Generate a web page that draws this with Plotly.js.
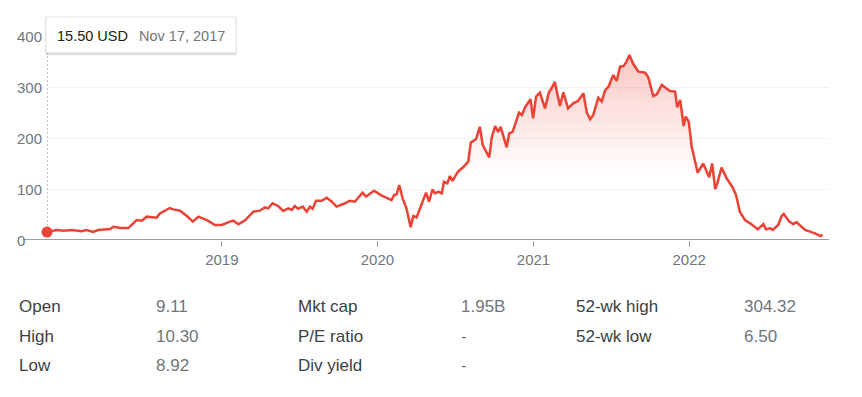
<!DOCTYPE html>
<html><head><meta charset="utf-8">
<script src="https://cdn.plot.ly/plotly-3.0.1.min.js"></script>
<style>html,body{margin:0;padding:0;background:#fff;overflow:hidden}#chart{width:862px;height:397px}</style>
</head><body><div id="chart"></div>
<script>
const dates = ['2017-11-17','2017-12-10','2017-12-26','2018-01-14','2018-02-06','2018-02-18','2018-03-05','2018-03-17','2018-04-14','2018-04-22','2018-05-08','2018-05-27','2018-06-15','2018-06-27','2018-07-09','2018-08-01','2018-08-09','2018-09-01','2018-09-09','2018-09-25','2018-10-11','2018-10-25','2018-11-07','2018-11-27','2018-12-16','2019-01-01','2019-01-20','2019-01-28','2019-02-09','2019-02-24','2019-03-16','2019-03-31','2019-04-12','2019-04-20','2019-04-30','2019-05-13','2019-05-25','2019-06-06','2019-06-14','2019-06-21','2019-06-29','2019-07-10','2019-07-19','2019-07-27','2019-08-02','2019-08-10','2019-08-23','2019-09-04','2019-09-16','2019-09-27','2019-10-17','2019-10-28','2019-11-09','2019-11-27','2019-12-05','2019-12-24','2020-01-11','2020-01-26','2020-02-03','2020-02-09','2020-02-15','2020-02-21','2020-02-29','2020-03-09','2020-03-19','2020-03-25','2020-04-02','2020-04-24','2020-05-01','2020-05-09','2020-05-15','2020-05-23','2020-05-31','2020-06-05','2020-06-13','2020-06-19','2020-06-25','2020-07-08','2020-07-20','2020-08-01','2020-08-07','2020-08-19','2020-08-28','2020-09-04','2020-09-19','2020-09-25','2020-10-03','2020-10-10','2020-10-16','2020-10-30','2020-11-05','2020-11-13','2020-11-22','2020-11-28','2020-12-05','2020-12-12','2020-12-25','2020-12-31','2021-01-07','2021-01-16','2021-01-28','2021-02-06','2021-02-11','2021-02-20','2021-03-04','2021-03-12','2021-03-23','2021-04-04','2021-04-16','2021-04-28','2021-05-06','2021-05-14','2021-05-21','2021-06-02','2021-06-10','2021-06-18','2021-06-26','2021-07-07','2021-07-15','2021-07-23','2021-07-31','2021-08-07','2021-08-14','2021-08-23','2021-09-04','2021-09-20','2021-09-27','2021-10-09','2021-10-17','2021-10-29','2021-11-08','2021-11-17','2021-11-29','2021-12-04','2021-12-11','2021-12-19','2021-12-24','2021-12-31','2022-01-07','2022-01-21','2022-02-03','2022-02-17','2022-02-24','2022-03-03','2022-03-08','2022-03-18','2022-03-30','2022-04-13','2022-04-21','2022-04-30','2022-05-12','2022-05-24','2022-06-11','2022-06-24','2022-06-30','2022-07-10','2022-07-16','2022-07-29','2022-08-06','2022-08-11','2022-08-24','2022-09-02','2022-09-10','2022-09-30','2022-10-23','2022-11-04','2022-11-10'];
const prices = [15.5,19.6,18,19.6,17,19.6,16,19.6,21.6,26,23.5,23.5,39,38,45.8,43.8,52,62.7,60,57.5,47,36,45.8,39,29.4,29.4,36,37.8,31,38,55.5,57.5,64,62,72,66.7,57,62,59,66.7,61.4,65.4,55.5,65.4,61.4,77,77,83,75,65.4,72,77,75,92.8,85,96.7,87,81.7,78.4,88,89.5,107.8,81.7,62,25,47,44.5,92.8,75,99,91.5,94.8,91.5,114,111,125.5,116,134,142.5,153.6,191,197.5,222,186,162,201,223.5,212,222,181.7,209,212,235,249.6,245,260,276,238.6,281,289,258,289,295.5,310,262.7,289.6,258,268,273,287.6,249.6,236.6,245,279,272,294,300.6,323.5,312,340,341,349.6,362.7,345,330,328,319,282,285.7,304,297.5,292,291,260,274.5,223.5,242,232,183,132,150,123,150,100,111,142,121,103,88,55.5,39,32.7,21,31.4,21,23,19.6,29.4,47,51,36,31.4,34.7,19.6,13,8,9.8];
const tickDates = ['2019-01-01','2020-01-01','2021-01-01','2022-01-01'];
const tickLabels = ['2019','2020','2021','2022'];
const yTicks = [0,100,200,300,400];
const tooltipPrice = '15.50 USD';
const tooltipDate = 'Nov 17, 2017';
const statLabelsA = ['Open','High','Low'];
const statValuesA = ['9.11','10.30','8.92'];
const statLabelsB = ['Mkt cap','P/E ratio','Div yield'];
const statValuesB = ['1.95B','-','-'];
const statLabelsC = ['52-wk high','52-wk low'];
const statValuesC = ['304.32','6.50'];

// layout geometry (pixels)
const L = 47, R = 829, T = 36, B = 240;
const W = R - L, H = B - T;
const px = x => (x - L) / W;
const py = y => (B - y) / H;
const FONT = 'Liberation Sans, Arial, Helvetica, sans-serif';
const RED = '#ea4335';

const traces = [
  {
    x: dates, y: prices, type: 'scatter', mode: 'lines',
    line: {color: RED, width: 2.5},
    fill: 'tozeroy',
    fillgradient: {type: 'vertical', start: 0, stop: 365,
      colorscale: [[0, 'rgba(234,67,53,0)'], [0.35, 'rgba(234,67,53,0)'], [1, 'rgba(234,67,53,0.3)']]},
    hoverinfo: 'skip'
  },
  {
    x: [dates[0]], y: [prices[0]], type: 'scatter', mode: 'markers',
    marker: {color: RED, size: 11}, cliponaxis: false, hoverinfo: 'skip'
  }
];

const annotations = [];
// y-axis tick labels, left aligned
yTicks.forEach(v => annotations.push({
  text: String(v), xref: 'paper', yref: 'y', x: px(14.5), y: v,
  xanchor: 'left', yanchor: 'middle', showarrow: false,
  font: {family: FONT, size: 15, color: '#70757a'}
}));
const rowY = [306, 336, 365];
function addCol(arr, x, color) {
  arr.forEach((t, i) => annotations.push({
    text: t, xref: 'paper', yref: 'paper', x: px(x), y: py(rowY[i]),
    xanchor: 'left', yanchor: 'middle', showarrow: false,
    font: {family: FONT, size: 17, color: color}
  }));
}
addCol(statLabelsA, 17, '#3c4043');
addCol(statValuesA, 154, '#70757a');
addCol(statLabelsB, 296, '#3c4043');
addCol(statValuesB, 459, '#70757a');
addCol(statLabelsC, 574, '#3c4043');
addCol(statValuesC, 742, '#70757a');

annotations.push({text: tooltipPrice, xref: 'paper', yref: 'paper', x: px(55), y: py(35.5),
  xanchor: 'left', yanchor: 'middle', showarrow: false, font: {family: FONT, size: 14.5, color: '#202124'}});
annotations.push({text: tooltipDate, xref: 'paper', yref: 'paper', x: px(137), y: py(35.5),
  xanchor: 'left', yanchor: 'middle', showarrow: false, font: {family: FONT, size: 14.5, color: '#70757a'}});

const shapes = [
  // baseline axis line
  {type: 'line', xref: 'paper', yref: 'y', x0: px(23), x1: 1, y0: 0, y1: 0,
   line: {color: '#9aa0a6', width: 2}, layer: 'above'},
  // dotted cursor line
  {type: 'line', xref: 'x', yref: 'paper', x0: dates[0], x1: dates[0], y0: py(230), y1: py(53),
   line: {color: '#80868b', width: 1, dash: '2px,2px'}, layer: 'above'},
  // tooltip shadow
  {type: 'rect', xref: 'paper', yref: 'paper', x0: px(45), x1: px(237), y0: py(56), y1: py(17),
   fillcolor: 'rgba(0,0,0,0.05)', line: {width: 0}, layer: 'above'},
  {type: 'rect', xref: 'paper', yref: 'paper', x0: px(46), x1: px(236), y0: py(54.5), y1: py(17),
   fillcolor: 'rgba(0,0,0,0.08)', line: {width: 0}, layer: 'above'},
  // tooltip box
  {type: 'rect', xref: 'paper', yref: 'paper', x0: px(46), x1: px(236), y0: py(53), y1: py(17),
   fillcolor: '#ffffff', line: {color: 'rgba(0,0,0,0.10)', width: 1}, layer: 'above'}
];

const layout = {
  width: 862, height: 397,
  margin: {l: L, r: 862 - R, t: T, b: 397 - B, pad: 0},
  paper_bgcolor: '#fff', plot_bgcolor: '#fff',
  showlegend: false,
  xaxis: {
    type: 'date', range: ['2017-11-17', '2022-11-25'],
    tickvals: tickDates, ticktext: tickLabels,
    ticks: 'outside', ticklen: 6, tickwidth: 1, tickcolor: '#9aa0a6',
    showgrid: false, zeroline: false, showline: false,
    tickfont: {family: FONT, size: 15, color: '#70757a'}, fixedrange: true
  },
  yaxis: {
    range: [0, 400], tickvals: yTicks,
    showgrid: true, gridcolor: '#f1f1f1', gridwidth: 1,
    zeroline: false, showline: false, ticks: '', showticklabels: false,
    fixedrange: true
  },
  shapes: shapes,
  annotations: annotations,
  hovermode: false
};

Plotly.newPlot('chart', traces, layout, {staticPlot: true, displayModeBar: false});
</script></body></html>
